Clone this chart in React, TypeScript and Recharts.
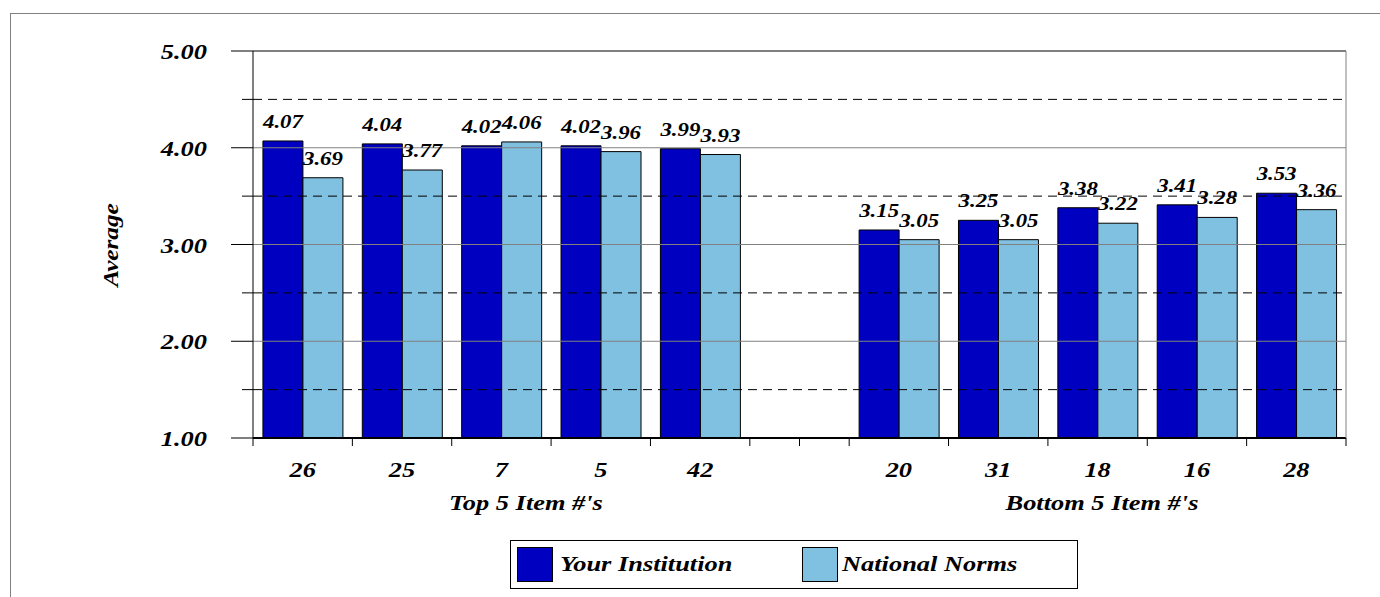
import React from "react";
import { Bar, BarChart, LabelList, ReferenceLine, XAxis, YAxis } from "recharts";

const categories = ["26", "25", "7", "5", "42", "", "20", "31", "18", "16", "28"];
const yourInstitution = [4.07, 4.04, 4.02, 4.02, 3.99, null, 3.15, 3.25, 3.38, 3.41, 3.53];
const nationalNorms = [3.69, 3.77, 4.06, 3.96, 3.93, null, 3.05, 3.05, 3.22, 3.28, 3.36];
const yTicks = [1, 1.5, 2, 2.5, 3, 3.5, 4, 4.5, 5];
const solidLines = [2, 3, 4];
const dashedLines = [1.5, 2.5, 3.5, 4.5];

const data = categories.map((name, i) => ({
  name,
  your: yourInstitution[i],
  norms: nationalNorms[i],
}));

const FONT = "'Liberation Serif', 'Times New Roman', serif";
const DARK = "#0000C0";
const LIGHT = "#80C0E0";
const PLOT_LEFT = 253;
const PLOT_BOTTOM = 438;
const BAND = (1380 - 253 - 34) / 11;
const SX = 1.2;

const txtStyle = {
  fontFamily: FONT,
  fontWeight: 700,
  fontStyle: "italic" as const,
  fill: "#000",
};

const YTick = ({ y, payload }: any) => {
  const v = payload.value as number;
  const major = Number.isInteger(v);
  return (
    <g>
      <line x1={major ? PLOT_LEFT - 22 : PLOT_LEFT - 11} x2={PLOT_LEFT} y1={y} y2={y} stroke="#000" />
      {major && (
        <text transform={`translate(207, ${y + 8}) scale(${SX}, 1)`} textAnchor="end" style={{ ...txtStyle, fontSize: 22 }}>
          {v.toFixed(2)}
        </text>
      )}
    </g>
  );
};

const XTick = ({ x, payload, index }: any) => {
  const left = x - BAND / 2;
  const right = x + BAND / 2;
  return (
    <g>
      <line x1={left} x2={left} y1={PLOT_BOTTOM} y2={PLOT_BOTTOM + 8} stroke="#000" />
      {payload.value === "" && (
        <line x1={x} x2={x} y1={PLOT_BOTTOM} y2={PLOT_BOTTOM + 8} stroke="#000" />
      )}
      {index === categories.length - 1 && (
        <line x1={right} x2={right} y1={PLOT_BOTTOM} y2={PLOT_BOTTOM + 8} stroke="#000" />
      )}
      <text transform={`translate(${x}, 477) scale(${SX}, 1)`} textAnchor="middle" style={{ ...txtStyle, fontSize: 22 }}>
        {payload.value}
      </text>
    </g>
  );
};

const ValueLabel = ({ x, y, width, value }: any) => {
  if (value == null) return null;
  return (
    <text transform={`translate(${x + width / 2}, ${y - 13}) scale(${SX}, 1)`} textAnchor="middle" style={{ ...txtStyle, fontSize: 19 }}>
      {Number(value).toFixed(2)}
    </text>
  );
};

const stretch = (origin: string) => ({
  position: "absolute" as const,
  fontFamily: FONT,
  fontWeight: 700,
  fontStyle: "italic" as const,
  whiteSpace: "nowrap" as const,
  transform: `scaleX(${SX})`,
  transformOrigin: origin,
});

export default function App() {
  return (
    <div style={{ position: "absolute", left: 0, top: 0, width: 1380, height: 597, overflow: "hidden", background: "#fff" }}>
      <div style={{ position: "absolute", left: 10, top: 13, width: 1400, height: 600, border: "1px solid #808080" }} />
      <div style={{ position: "absolute", left: 0, top: 0 }}>
        <BarChart
          width={1380}
          height={597}
          data={data}
          margin={{ top: 51, right: 33, left: 0, bottom: 0 }}
          barCategoryGap="10%"
          barGap={0}
        >
          {solidLines.map((v) => (
            <ReferenceLine key={`s${v}`} y={v} stroke="#808080" />
          ))}
          {dashedLines.map((v) => (
            <ReferenceLine key={`d${v}`} y={v} stroke="#000" strokeDasharray="9 6" />
          ))}
          <ReferenceLine y={5} stroke="#000" />
          <XAxis
            dataKey="name"
            interval={0}
            height={159}
            tickLine={false}
            axisLine={{ stroke: "#000", strokeWidth: 2 }}
            tick={<XTick />}
          />
          <YAxis
            domain={[1, 5]}
            ticks={yTicks}
            interval={0}
            width={253}
            tickLine={false}
            axisLine={{ stroke: "#000" }}
            tick={<YTick />}
            label={{
              content: () => (
                <text transform={`translate(118, 245) rotate(-90) scale(${SX}, 1)`} textAnchor="middle" style={{ ...txtStyle, fontSize: 21 }}>
                  Average
                </text>
              ),
            }}
          />
          <YAxis
            yAxisId="r"
            orientation="right"
            domain={[1, 5]}
            width={1}
            tick={false}
            tickLine={false}
            axisLine={{ stroke: "#808080" }}
          />
          <Bar dataKey="your" fill={DARK} stroke="#000" strokeWidth={1} isAnimationActive={false}>
            <LabelList dataKey="your" content={<ValueLabel />} />
          </Bar>
          <Bar dataKey="norms" fill={LIGHT} stroke="#000" strokeWidth={1} isAnimationActive={false}>
            <LabelList dataKey="norms" content={<ValueLabel />} />
          </Bar>
        </BarChart>
      </div>
      <div style={{ ...stretch("center"), left: 426, top: 490, width: 200, textAlign: "center", fontSize: 22 }}>
        Top 5 Item #'s
      </div>
      <div style={{ ...stretch("center"), left: 982, top: 490, width: 240, textAlign: "center", fontSize: 22 }}>
        Bottom 5 Item #'s
      </div>
      <div style={{ position: "absolute", left: 510, top: 540, width: 566, height: 47, border: "1px solid #000" }}>
        <div style={{ position: "absolute", left: 6, top: 6, width: 34, height: 33, background: DARK, border: "1px solid #000" }} />
        <div style={{ ...stretch("left center"), left: 49, top: 10, fontSize: 22 }}>Your Institution</div>
        <div style={{ position: "absolute", left: 291, top: 6, width: 34, height: 33, background: LIGHT, border: "1px solid #000" }} />
        <div style={{ ...stretch("left center"), left: 331, top: 10, fontSize: 22 }}>National Norms</div>
      </div>
    </div>
  );
}
